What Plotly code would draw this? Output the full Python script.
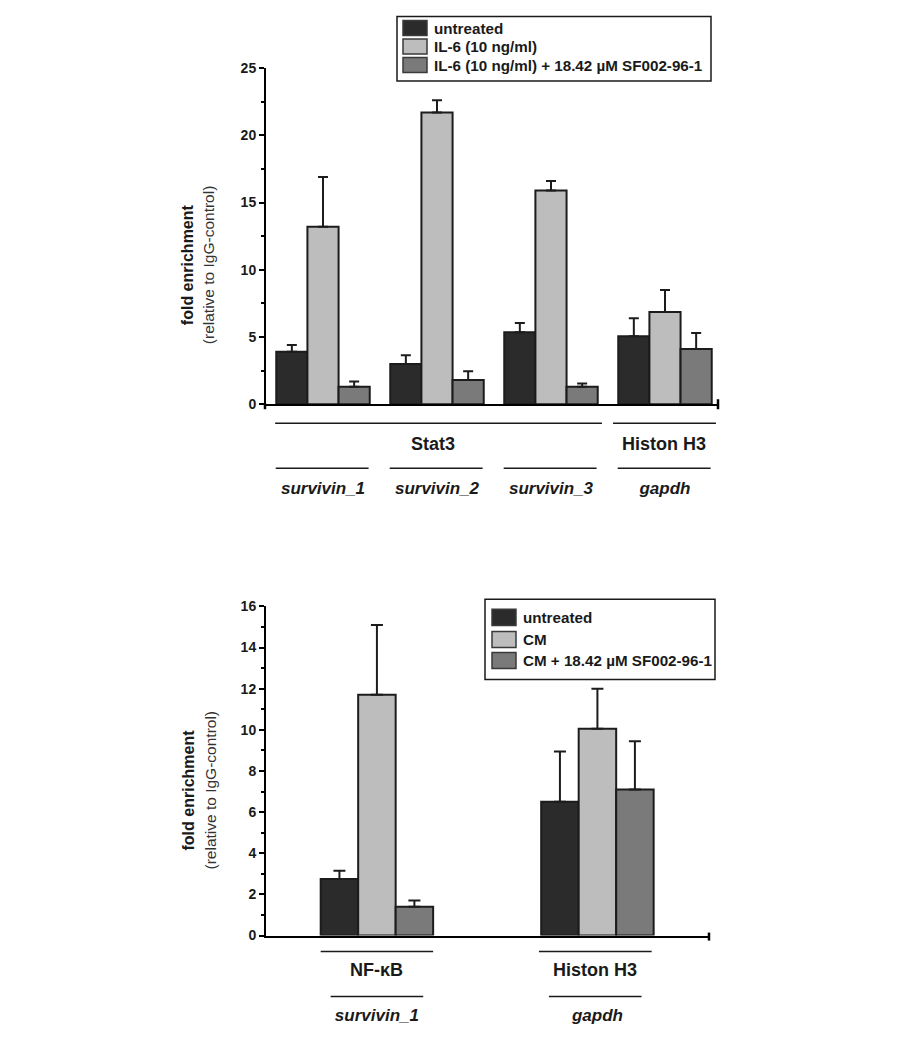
import plotly.graph_objects as go

# ---------------- data ----------------
top_categories = ["survivin_1", "survivin_2", "survivin_3", "gapdh"]
top_series = ["untreated", "IL-6 (10 ng/ml)", "IL-6 (10 ng/ml) + 18.42 µM SF002-96-1"]
top_untreated = [3.9, 3.0, 5.35, 5.05]
top_untreated_err = [0.5, 0.65, 0.7, 1.35]
top_il6 = [13.2, 21.7, 15.9, 6.85]
top_il6_err = [3.7, 0.9, 0.7, 1.65]
top_sf = [1.3, 1.8, 1.3, 4.1]
top_sf_err = [0.4, 0.65, 0.25, 1.2]
top_groups = ["Stat3", "Histon H3"]
top_yticks = [0, 5, 10, 15, 20, 25]

bot_categories = ["survivin_1", "gapdh"]
bot_series = ["untreated", "CM", "CM + 18.42 µM SF002-96-1"]
bot_untreated = [2.75, 6.5]
bot_untreated_err = [0.4, 2.45]
bot_cm = [11.7, 10.05]
bot_cm_err = [3.4, 1.95]
bot_sf = [1.4, 7.1]
bot_sf_err = [0.3, 2.35]
bot_groups = ["NF-κB", "Histon H3"]
bot_yticks = [0, 2, 4, 6, 8, 10, 12, 14, 16]

# ---------------- style ----------------
XOFF = 8                 # page offset (horizontal)
YOFF, YSC = 16, 0.984    # observed vertical placement of the figure in the photo
W, H = 884, 1040
FONT = "Liberation Sans, Arial, sans-serif"
COLORS = ["#2b2b2b", "#bdbdbd", "#7a7a7a"]
EDGE = "#1c1c1c"


def px(x):
    return (x - XOFF) / W


def py(y):
    return 1 - ((y - YOFF) / YSC) / H


fig = go.Figure()


def add_bars(xaxis, yaxis, cats, names, vals, errs, width, capw):
    n = len(names)
    for i, (nm, v, e) in enumerate(zip(names, vals, errs)):
        fig.add_trace(go.Bar(
            x=cats, y=v, name=nm, xaxis=xaxis, yaxis=yaxis,
            width=width, offset=(i - n / 2) * width,
            marker=dict(color=COLORS[i], line=dict(color=EDGE, width=2)),
            error_y=dict(type="data", symmetric=False, array=e,
                         arrayminus=[0] * len(e), color=EDGE,
                         thickness=2, width=capw),
            showlegend=False,
        ))


add_bars("x", "y", top_categories, top_series,
         [top_untreated, top_il6, top_sf],
         [top_untreated_err, top_il6_err, top_sf_err], 0.82 / 3, 5)
add_bars("x2", "y2", bot_categories, bot_series,
         [bot_untreated, bot_cm, bot_sf],
         [bot_untreated_err, bot_cm_err, bot_sf_err], 0.51 / 3, 6)

yax_common = dict(
    showline=True, linecolor="black", linewidth=2, showgrid=False,
    zeroline=False, ticks="outside", ticklen=5, tickwidth=1.5,
    tickcolor="black",
    tickfont=dict(family=FONT, size=14, color="#1a1a1a", weight="bold"),
    fixedrange=True,
)
xax_common = dict(
    showline=True, linecolor="black", linewidth=2, showgrid=False,
    zeroline=False, ticks="", type="category",
    tickfont=dict(family=FONT, size=17, color="#1a1a1a", weight="bold"),
)

fig.update_layout(
    width=W, height=H, autosize=False,
    margin=dict(l=0, r=0, t=0, b=0),
    paper_bgcolor="white", plot_bgcolor="rgba(0,0,0,0)",
    barmode="overlay",
    font=dict(family=FONT, color="#1a1a1a"),
    xaxis=dict(domain=[px(266), px(718)], range=[-0.5, 3.465],
               anchor="y", tickvals=top_categories,
               ticktext=["<i>%s</i>" % c for c in top_categories],
               ticklabelstandoff=67, **xax_common),
    yaxis=dict(domain=[py(404), py(68)], range=[0, 25], anchor="x",
               tickvals=top_yticks,
               minor=dict(ticks="outside", ticklen=3, dtick=2.5,
                          tickcolor="black", tickwidth=1.5, showgrid=False),
               **yax_common),
    xaxis2=dict(domain=[px(266), px(709)], range=[-0.503, 1.506],
                anchor="y2", tickvals=bot_categories,
                ticktext=["<i>%s</i>" % c for c in bot_categories],
                ticklabelstandoff=63, **xax_common),
    yaxis2=dict(domain=[py(935), py(606)], range=[0, 16], anchor="x2",
                tickvals=bot_yticks,
                minor=dict(ticks="outside", ticklen=3, dtick=1,
                           tickcolor="black", tickwidth=1.5, showgrid=False),
                **yax_common),
)

shapes = []
annotations = []

# axis end ticks
for (x0, y0, y1) in [(265, 403, 409), (718, 399, 409), (709, 932, 940)]:
    shapes.append(dict(type="line", xref="paper", yref="paper",
                       x0=px(x0), x1=px(x0), y0=py(y0), y1=py(y1),
                       line=dict(color="black", width=2.5)))

# top grouping lines/labels
LINE = dict(color="#1a1a1a", width=1.5)
for (a, b) in [(-0.42, 2.447), (2.544, 3.447)]:
    shapes.append(dict(type="line", xref="x", yref="paper", x0=a, x1=b,
                       y0=py(423), y1=py(423), line=LINE))
for i in range(len(top_categories)):
    shapes.append(dict(type="line", xref="x", yref="paper",
                       x0=i - 0.415, x1=i + 0.40, y0=py(468), y1=py(468),
                       line=LINE))
for txt, xc in zip(top_groups, [0.965, 2.99]):
    annotations.append(dict(text=txt, xref="x", yref="paper", x=xc, y=py(444),
                            showarrow=False, xanchor="center", yanchor="middle",
                            font=dict(family=FONT, size=18, color="#1a1a1a",
                                      weight="bold")))

# bottom grouping lines/labels
for (a, b) in [(-0.255, 0.255), (0.735, 1.246)]:
    shapes.append(dict(type="line", xref="x2", yref="paper", x0=a, x1=b,
                       y0=py(951), y1=py(951), line=LINE))
for (a, b) in [(-0.21, 0.21), (0.78, 1.20)]:
    shapes.append(dict(type="line", xref="x2", yref="paper", x0=a, x1=b,
                       y0=py(996), y1=py(996), line=LINE))
for txt, xc in zip(bot_groups, [0.0, 0.99]):
    annotations.append(dict(text=txt, xref="x2", yref="paper", x=xc, y=py(969),
                            showarrow=False, xanchor="center", yanchor="middle",
                            font=dict(family=FONT, size=18, color="#1a1a1a",
                                      weight="bold")))

# axis titles
for (xb, xr, yc) in [(187, 208, 265), (188, 210, 790)]:
    annotations.append(dict(text="fold enrichment", xref="paper", yref="paper",
                            x=px(xb), y=py(yc), textangle=-90, showarrow=False,
                            xanchor="center", yanchor="middle",
                            font=dict(family=FONT, size=16, color="#1a1a1a",
                                      weight="bold")))
    annotations.append(dict(text="(relative to IgG-control)", xref="paper",
                            yref="paper", x=px(xr), y=py(yc), textangle=-90,
                            showarrow=False, xanchor="center", yanchor="middle",
                            font=dict(family=FONT, size=15.5, color="#333333")))


# custom legends
def legend(box, sw_x, centers, text_x, names, sw_h):
    x0, x1, y0, y1 = box
    shapes.append(dict(type="rect", xref="paper", yref="paper",
                       x0=px(x0), x1=px(x1), y0=py(y1), y1=py(y0),
                       line=dict(color="#1a1a1a", width=1.5),
                       fillcolor="white"))
    for i, (nm, yc) in enumerate(zip(names, centers)):
        shapes.append(dict(type="rect", xref="paper", yref="paper",
                           x0=px(sw_x), x1=px(sw_x + 24),
                           y0=py(yc + sw_h / 2), y1=py(yc - sw_h / 2),
                           line=dict(color="#3a3a3a", width=1.5),
                           fillcolor=COLORS[i]))
        annotations.append(dict(text=nm, xref="paper", yref="paper",
                                x=px(text_x), y=py(yc), showarrow=False,
                                xanchor="left", yanchor="middle",
                                font=dict(family=FONT, size=15.2, color="#1a1a1a",
                                          weight="bold")))


legend((397, 711, 16.5, 81), 403, [28, 46.5, 65], 432, top_series, 15)
legend((485, 715, 599, 679), 492, [617, 639, 660], 521, bot_series, 16)

fig.update_layout(shapes=shapes, annotations=annotations)
fig.write_html("out.html")
